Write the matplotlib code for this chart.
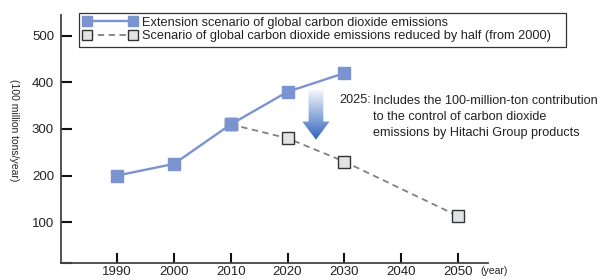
import matplotlib
matplotlib.use("Agg")
import matplotlib.pyplot as plt
import numpy as np
from matplotlib.patches import Polygon, Rectangle
from matplotlib.colors import LinearSegmentedColormap

plt.rcParams['font.family'] = ['Liberation Sans', 'DejaVu Sans']

years_ext = [1990, 2000, 2010, 2020, 2030]
vals_ext = [200, 225, 310, 380, 420]
years_half = [2010, 2020, 2030, 2050]
vals_half = [310, 280, 230, 113]
xticks = [1990, 2000, 2010, 2020, 2030, 2040, 2050]
yticks = [100, 200, 300, 400, 500]

blue = '#7b93cf'
gray_face = '#e2e3e5'
axis_col = '#444444'
text_col = '#222222'

fig = plt.figure(figsize=(6.05, 2.8), dpi=100)
ax = fig.add_axes([61/605, 1-263/280, (488-61)/605, (263-15)/280])

ax.set_xlim(1980.1, 2055.3)
ax.set_ylim(12, 545)

ax.plot(years_half, vals_half, linestyle=(0, (3.5, 2.5)), color='#808080', lw=1.3,
        marker='s', markersize=8.5, markerfacecolor=gray_face, markeredgecolor='#333333',
        markeredgewidth=1.0, zorder=2,
        label='Scenario of global carbon dioxide emissions reduced by half (from 2000)')
ax.plot(years_ext, vals_ext, linestyle='-', color=blue, lw=1.7,
        marker='s', markersize=9, markerfacecolor=blue, markeredgecolor=blue, zorder=3,
        label='Extension scenario of global carbon dioxide emissions')

for s in ['top', 'right']:
    ax.spines[s].set_visible(False)
for s in ['left', 'bottom']:
    ax.spines[s].set_color(axis_col)
    ax.spines[s].set_linewidth(1.3)

ax.set_xticks(xticks)
ax.set_xticklabels([str(x) for x in xticks])
ax.set_yticks([12] + yticks)
ax.set_yticklabels([''] + [str(y) for y in yticks])
ax.tick_params(axis='x', direction='in', length=7, width=1.5, color='#111111',
               labelsize=9.5, labelcolor=text_col, pad=2)
ax.tick_params(axis='y', direction='in', length=8, width=1.5, color='#111111',
               labelsize=9.5, labelcolor=text_col, pad=5)

ax.text(2053.9, -5, '(year)', fontsize=7.5, color=text_col, ha='left', va='center',
        clip_on=False)

fig.text(14/605, 1-130/280, '(100 million tons/year)', rotation=270, fontsize=7.5,
         color=text_col, ha='center', va='center')

# legend (frame drawn separately to match the reference's wider box)
h, l = ax.get_legend_handles_labels()
leg = ax.legend(h[::-1], l[::-1], loc='upper left', bbox_to_anchor=((79-61)/427, 1.008),
                frameon=False, fontsize=9.2, handlelength=4.25,
                borderpad=0.3, labelspacing=0.12, handletextpad=0.4, borderaxespad=0,
                numpoints=2, markerscale=0.85)
for t in leg.get_texts():
    t.set_color(text_col)
fig.patches.append(Rectangle((79/605, 1-47/280), (566-79)/605, 34/280,
                             transform=fig.transFigure, fill=False,
                             edgecolor='#333333', linewidth=0.9, zorder=5))

# gradient arrow at 2025
xc = 2025.0
shaft_w = 2.6
head_w = 4.8
y_top, y_head, y_tip = 384, 316, 277
verts = [(xc - shaft_w/2, y_top), (xc + shaft_w/2, y_top), (xc + shaft_w/2, y_head),
         (xc + head_w/2, y_head), (xc, y_tip), (xc - head_w/2, y_head),
         (xc - shaft_w/2, y_head)]
poly = Polygon(verts, closed=True, facecolor='none', edgecolor='none', zorder=4)
ax.add_patch(poly)
grad = np.linspace(0, 1, 256).reshape(-1, 1)
cmap = LinearSegmentedColormap.from_list('g', ['#2f63bf', '#f4f6fb'])
im = ax.imshow(grad, cmap=cmap, extent=[xc - head_w/2, xc + head_w/2, y_tip, y_top],
               origin='lower', aspect='auto', zorder=4)
im.set_clip_path(poly)

ax.text(2029.1, 362, '2025:', fontsize=9.1, color=text_col, ha='left', va='center')
ax.text(2035.1, 374, 'Includes the 100-million-ton contribution\nto the control of carbon dioxide\nemissions by Hitachi Group products',
        fontsize=9.1, color=text_col, ha='left', va='top', linespacing=1.45)

fig.savefig('out.png', dpi=100)
